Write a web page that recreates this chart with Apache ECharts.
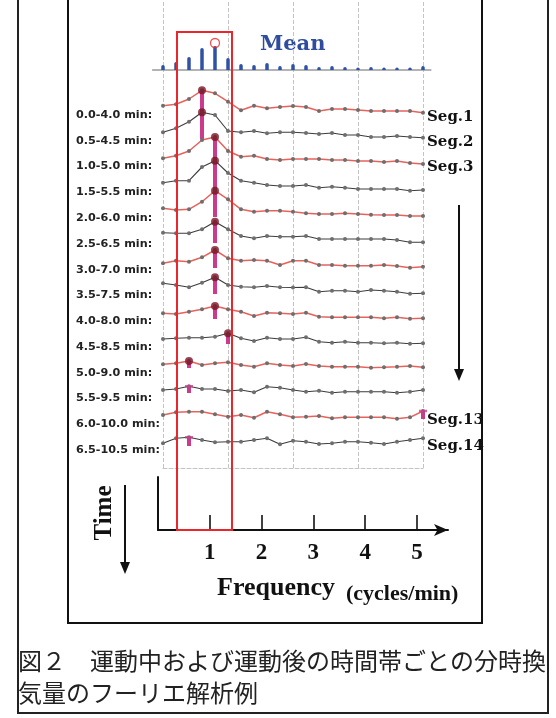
<!DOCTYPE html>
<html><head><meta charset="utf-8">
<script src="https://cdn.jsdelivr.net/npm/echarts/dist/echarts.min.js"></script>
<style>html,body{margin:0;padding:0;background:#fff}#c{width:556px;height:718px}</style>
</head><body><div id="c"></div><script>
// ---------------- data ----------------
const freqs = [0,0.25,0.5,0.75,1,1.25,1.5,1.75,2,2.25,2.5,2.75,3,3.25,3.5,3.75,4,4.25,4.5,4.75,5];
const meanPower = [5,8,13,22,24,12,6,5,7,4,6,5,3,4,3,2.5,3,2.5,2.5,2.5,4];
const segLabels = ['0.0-4.0 min:','0.5-4.5 min:','1.0-5.0 min:','1.5-5.5 min:','2.0-6.0 min:','2.5-6.5 min:','3.0-7.0 min:','3.5-7.5 min:','4.0-8.0 min:','4.5-8.5 min:','5.0-9.0 min:','5.5-9.5 min:','6.0-10.0 min:','6.5-10.5 min:'];
const segNames = ['Seg.1','Seg.2','Seg.3','','','','','','','','','','Seg.13','Seg.14'];
const seg1  = [8.3,9.7,15,23.7,20.7,12.3,3.7,8.3,5.7,7,8,7,3,5,5,4,3,3,3,3,1.3];
const seg2  = [6.7,10.7,17.3,26.7,24,8,6.7,8,5.7,6.7,6.7,6,5,6,4,4,2,2,3,2,1.3];
const seg3  = [6.7,9.3,14,25,28,14,8.3,9.3,6,5,6,6,6,5,5,4,4,3,4,2,1];
const seg4  = [8.3,10.3,10.3,24,30.3,18,10.3,8.3,6,5,5,6,3.3,4.3,3.3,2,2,2,2,0.3,1];
const seg5  = [8.7,7,7.7,15.3,26.3,17.7,7.7,5.3,6.3,6.3,5.3,3.7,3,3,3.7,3,2.3,2,2,1,1];
const seg6  = [10.3,9.7,9.7,13.7,21.3,13.7,7,4.7,7,6.3,6.3,7,4,4,4,4,4,4,3,0.7,0.7];
const seg7  = [4.7,7.3,6.3,10.7,18,9.7,7.3,8,7.3,3,7.3,7.3,3,3,2.3,2.3,2.3,3,2,0.3,1.3];
const seg8  = [10.7,9,6.7,11.3,16.7,9,7.3,6.7,8,6.7,6.5,6.7,2.3,3.3,3.3,2.3,4,3.3,2.3,0.3,0.7];
const seg9  = [5.7,5,7.3,9.7,13,9.7,7.3,3,6.3,5.7,5,6.3,2.3,1.7,1.7,1.7,1.7,0.7,1.7,0.3,0.7];
const seg10 = [5,5.7,6.3,6.3,7.3,10.7,5.7,3,6.3,5,5,6.7,2.3,1.3,2.3,1.3,1.3,0.7,1.3,0.3,0.7];
const seg11 = [3.7,4.7,7,3,4.7,5.7,3,1.3,4.7,3,2,4,2,1.3,1.3,1.3,0.3,0.7,1.3,2,0.7];
const seg12 = [3,4,6.7,4,4,2,3,0.7,6.3,5.3,3,1.3,2.3,0.3,1.3,1.3,1.3,1.3,0.3,1.3,3];
const seg13 = [4,6.7,7.3,7.3,4.7,2.3,4,1.3,7.3,4.7,1.7,2.3,3,0.7,1.7,1.7,1.7,1.7,0.3,1.7,8];
const seg14 = [2.7,7.7,8.7,6,3.7,4.3,4.3,6,7.7,1.7,5.3,4.3,2,2.7,4.3,4.3,3.3,2,4.3,6,7.7];
const freqTicks = [1,2,3,4,5];
const segs = [seg1,seg2,seg3,seg4,seg5,seg6,seg7,seg8,seg9,seg10,seg11,seg12,seg13,seg14];

// ---------------- layout ----------------
const rowBase = [114,139,165,191,217,243,268,294,319,344,368,393,419,446];
const ROWH = 36, GL = 152.6, GW = 278.2, XMIN = -0.2, XMAX = 5.15;
const RED = '#e8262b', MAG = '#cc3a8c', DOT = '#6e6e6e';

const grid = [], xAxis = [], yAxis = [], series = [];
function addGrid(g, xa, ya){ grid.push(g); const i = grid.length-1;
  xAxis.push(Object.assign({gridIndex:i}, xa)); yAxis.push(Object.assign({gridIndex:i}, ya)); return i; }
const hiddenX = {type:'value', min:XMIN, max:XMAX, show:false};
const argmax = a => a.indexOf(Math.max(...a));

// background dashed grid
addGrid({left:163, width:260, top:2, height:466},
  {type:'value', min:0, max:5, interval:1.25, axisLabel:{show:false}, axisTick:{show:false},
   axisLine:{show:true, lineStyle:{color:'#c4c4c4', type:'dashed'}},
   splitLine:{show:true, lineStyle:{color:'#c4c4c4', type:'dashed', width:1}}},
  {type:'value', min:0, max:1, show:false, splitLine:{show:false}});

// mean row
let gi = addGrid({left:GL, width:GW, top:70-30, height:30},
  {type:'value', min:XMIN, max:XMAX, axisLine:{show:true, onZero:false, lineStyle:{color:'#9a9a9a', width:1.5}},
   axisTick:{show:false}, axisLabel:{show:false}, splitLine:{show:false}},
  {type:'value', min:0, max:30, show:false, splitLine:{show:false}});
series.push({type:'bar', xAxisIndex:gi, yAxisIndex:gi, barWidth:3.5, silent:true,
  itemStyle:{color:'#2f52a4', borderRadius:[2,2,0,0]}, data:freqs.map((f,i)=>[f, meanPower[i]])});
{ const k = argmax(meanPower);
  series.push({type:'scatter', xAxisIndex:gi, yAxisIndex:gi, symbol:'circle', symbolSize:9, symbolOffset:[0,-3], silent:true,
    itemStyle:{color:'rgba(0,0,0,0)', borderColor:RED, borderWidth:1.3}, data:[[freqs[k], meanPower[k]]], z:5}); }

// segment rows
segs.forEach((s, r) => {
  const i = addGrid({left:GL, width:GW, top:rowBase[r]-ROWH, height:ROWH}, hiddenX,
    {type:'value', min:0, max:ROWH, show:false, splitLine:{show:false}});
  const red = r % 2 === 0;
  series.push({type:'line', xAxisIndex:i, yAxisIndex:i, silent:true, symbol:'circle', symbolSize:4,
    lineStyle:{color: red ? '#e8625c' : '#3c3c3c', width: red ? 1.5 : 1.1},
    itemStyle:{color:DOT}, data:freqs.map((f,j)=>[f, s[j]]), z:3});
  const k = argmax(s);
  series.push({type:'bar', xAxisIndex:i, yAxisIndex:i, silent:true, barWidth:4,
    itemStyle:{color:MAG}, data:[[freqs[k], s[k]]], z:2});
  const tee = r >= 11;
  series.push({type:'scatter', xAxisIndex:i, yAxisIndex:i, silent:true,
    symbol: tee ? 'rect' : 'circle', symbolSize: tee ? [8,2.5] : 8,
    itemStyle:{color: tee ? MAG : '#7a1426'}, data:[[freqs[k], s[k]]], z:6});
});

// row labels (left) through a category axis
gi = addGrid({left:160, width:10, top:102.1, height:360.8},
  {type:'value', show:false},
  {type:'category', data:segLabels, inverse:true, axisLine:{show:false}, axisTick:{show:false},
   axisLabel:{align:'left', margin:84, fontFamily:'DejaVu Sans', fontWeight:'bold', fontSize:11.2, color:'#222'}});
// Seg labels (right)
gi = addGrid({left:415, width:10, top:104.3, height:354.2},
  {type:'value', show:false},
  {type:'category', position:'right', data:segNames, inverse:true, axisLine:{show:false}, axisTick:{show:false},
   axisLabel:{align:'left', margin:2, fontFamily:'DejaVu Serif', fontWeight:'bold', fontSize:15, color:'#111'}});

// bottom schematic frequency axis
gi = addGrid({left:158, width:290, top:477, height:53},
  {type:'value', min:0, max:5.6, interval:1,
   axisLine:{show:true, symbol:['none','arrow'], symbolSize:[9,14], lineStyle:{color:'#111', width:2}},
   axisTick:{show:true, inside:true, length:15, customValues:freqTicks, lineStyle:{color:'#111', width:1.6}},
   axisLabel:{customValues:freqTicks, margin:12, fontFamily:'Liberation Serif', fontWeight:'bold', fontSize:23, color:'#111'},
   splitLine:{show:false}},
  {type:'value', min:0, max:1, axisLine:{show:true, lineStyle:{color:'#111', width:2}}, axisTick:{show:false},
   axisLabel:{show:false}, splitLine:{show:false}});

const serif = '"Liberation Serif", serif';
const graphic = [
  // frames
  {type:'polyline', shape:{points:[[68,0],[68,623],[482,623],[482,0]]}, style:{stroke:'#111', lineWidth:2, fill:null}, z:1},
  {type:'polyline', shape:{points:[[18,0],[18,713],[548,713],[548,0]]}, style:{stroke:'#222', lineWidth:2, fill:null}, z:1},
  // red box
  {type:'rect', shape:{x:177, y:32, width:55, height:498}, style:{stroke:RED, lineWidth:2, fill:null}, z:50},
  // texts
  {type:'text', x:260, y:45, style:{text:'Mean', font:'bold 21px "DejaVu Serif"', fill:'#2f4c9e', align:'left', verticalAlign:'middle'}},
  {type:'text', x:217, y:588, style:{text:'Frequency', font:'bold 26px '+serif, fill:'#111', align:'left', verticalAlign:'middle'}},
  {type:'text', x:346, y:594, style:{text:'(cycles/min)', font:'bold 22px '+serif, fill:'#111', align:'left', verticalAlign:'middle'}},
  {type:'text', x:105, y:513, rotation:Math.PI/2, style:{text:'Time', font:'bold 25px '+serif, fill:'#111', align:'center', verticalAlign:'middle'}},
  // time arrow
  {type:'line', shape:{x1:125, y1:485, x2:125, y2:566}, style:{stroke:'#111', lineWidth:2}},
  {type:'polygon', shape:{points:[[120,562],[130,562],[125,574]]}, style:{fill:'#111'}},
  // right arrow
  {type:'line', shape:{x1:459, y1:205, x2:459, y2:372}, style:{stroke:'#111', lineWidth:2}},
  {type:'polygon', shape:{points:[[454,369],[464,369],[459,381]]}, style:{fill:'#111'}},
  // caption
  {type:'text', x:18, y:661, style:{text:'図２　運動中および運動後の時間帯ごとの分時換', font:'24px "Noto Sans CJK JP"', fill:'#222', align:'left', verticalAlign:'middle'}},
  {type:'text', x:18, y:693, style:{text:'気量のフーリエ解析例', font:'24px "Noto Sans CJK JP"', fill:'#222', align:'left', verticalAlign:'middle'}}
];

const chart = echarts.init(document.getElementById('c'), null, {renderer:'canvas'});
chart.setOption({animation:false, backgroundColor:'#fff', grid, xAxis, yAxis, series, graphic});
</script></body></html>
